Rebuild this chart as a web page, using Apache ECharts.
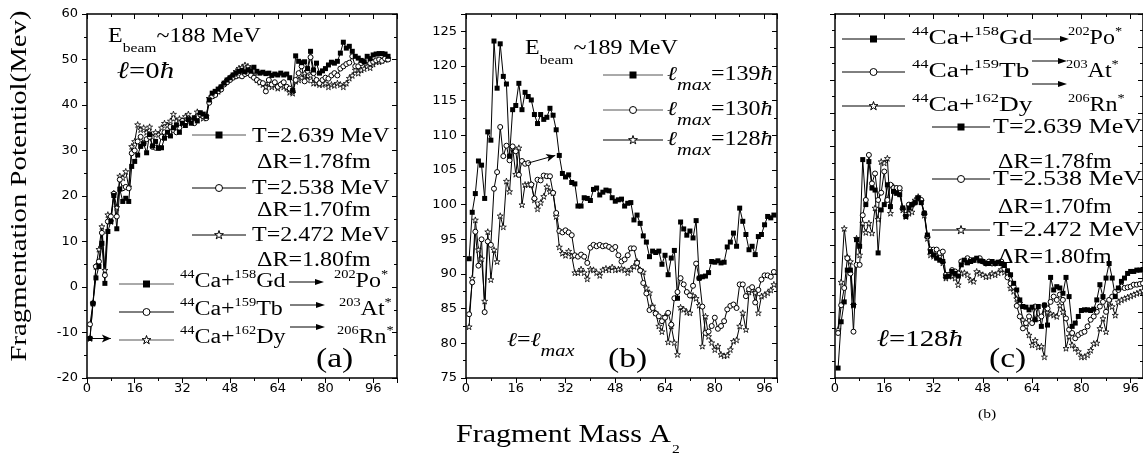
<!DOCTYPE html>
<html>
<head>
<meta charset="utf-8">
<script src="https://cdn.jsdelivr.net/npm/echarts@6/dist/echarts.min.js"></script>
<style>
  html, body { margin: 0; padding: 0; background: #fff; }
  #chart { width: 1143px; height: 457px; }
</style>
</head>
<body>
<div id="chart"></div>
<script>
// ---- data: fragmentation potential vs fragment mass A2 (A2 = 1, 2, 3, ...) ----
// panel (a): l = 0, three temperatures
const aSquare = [-11.3,-3.6,2.0,4.5,9.6,0.8,12.2,14.4,20.1,12.8,21.5,18.8,19.5,18.8,26.5,27.6,29.0,30.9,31.5,29.5,
  33.5,31.0,32.0,30.5,30.6,32.7,34.0,33.2,35.0,35.6,34.0,36.0,35.5,36.8,36.0,37.2,36.5,38.3,38.0,37.5,
  41.1,42.6,43.0,43.5,44.0,44.8,45.5,46.0,46.6,47.0,47.4,47.6,47.3,47.7,47.5,48.3,47.4,47.0,47.2,46.9,
  47.0,46.5,46.8,46.6,47.0,46.6,46.8,46.0,43.2,50.8,49.6,49.3,49.5,48.0,51.8,47.7,49.2,47.0,47.5,48.0,
  48.8,49.4,49.2,49.6,51.4,53.8,52.5,52.9,51.8,50.7,50.3,49.8,49.5,50.7,50.2,51.0,51.2,51.3,51.3,51.2,50.7];
const aCircle = [-8.2,-3.6,4.5,5.6,11.9,2.6,14.4,15.5,20.5,15.5,23.6,21.7,22.0,21.7,29.4,30.0,32.0,33.0,31.6,32.5,
  33.0,30.8,30.6,30.6,33.0,34.0,33.6,35.2,34.5,34.0,35.0,36.5,36.0,37.0,36.2,36.0,37.5,37.9,37.5,37.1,
  40.5,41.9,42.2,43.0,43.4,44.5,45.0,45.5,46.0,46.3,46.5,46.3,46.8,47.0,46.5,46.0,45.5,45.0,44.8,43.0,
  45.5,44.5,45.0,44.0,44.5,45.0,44.0,43.6,43.0,45.5,47.0,48.5,45.2,47.5,50.5,47.0,45.5,44.8,45.5,46.0,
  45.8,46.5,47.0,46.5,48.0,48.5,49.0,49.3,50.7,48.5,48.5,49.2,49.5,49.9,49.2,49.5,49.8,50.0,49.7,50.2,50.0];
const aStar = [-11.3,-3.6,4.5,8.3,13.3,3.7,15.9,14.4,20.6,17.5,24.4,24.0,25.4,22.0,30.9,32.0,35.7,34.6,35.0,34.0,
  35.2,33.0,34.0,33.5,35.0,36.0,35.5,36.5,38.0,36.5,37.0,36.5,37.5,38.0,36.5,37.0,38.5,38.0,37.1,37.5,
  41.5,42.0,42.5,43.0,44.0,44.8,45.5,46.0,46.5,47.4,48.1,48.3,48.8,48.5,48.0,46.5,45.5,45.0,44.5,44.0,
  44.8,44.0,44.5,43.7,44.5,44.0,43.7,42.8,42.6,45.2,45.5,46.0,47.0,45.5,46.5,44.8,44.8,44.5,44.5,44.8,
  44.0,44.5,44.3,44.8,44.5,44.0,44.8,45.9,46.5,47.7,47.0,47.7,48.0,48.5,48.2,49.0,49.5,49.5,49.8,50.0,50.2];

// panel (b): l = lmax (139, 130, 128 hbar)
const bSquare = [92.2,98.9,101.6,106.3,105.7,100.9,110.5,109.3,123.6,116.8,123.2,118.5,117.4,107.0,113.7,114.3,117.5,113.7,116.2,115.6,
  115.1,113.0,111.7,113.0,112.3,112.6,113.9,112.9,110.8,107.1,104.5,104.0,104.3,103.2,103.0,99.8,99.8,101.0,100.9,100.6,
  102.2,102.4,101.4,101.8,102.1,102.0,101.0,100.5,100.7,100.8,99.8,100.2,100.3,97.8,98.5,97.3,95.5,94.6,92.5,93.3,
  93.1,93.3,91.4,92.7,89.9,92.3,93.4,86.5,97.5,96.5,95.6,96.2,95.2,97.7,89.4,89.6,89.7,90.2,91.8,91.7,
  91.9,91.6,91.7,93.9,94.6,95.9,94.0,99.5,97.6,95.7,93.5,94.0,92.8,95.4,95.7,97.1,98.3,98.1,98.5];
const bCircle = [84.2,88.8,96.1,91.2,95.0,84.5,94.7,94.2,102.3,104.7,111.2,107.0,108.5,106.4,108.4,107.7,104.3,106.3,105.9,106.0,
  102.9,100.9,103.6,103.5,104.2,104.1,104.1,101.7,98.8,96.2,96.0,96.3,96.0,95.6,92.7,92.5,92.8,92.5,91.6,93.8,
  94.2,94.0,94.2,94.0,94.1,93.9,93.6,93.9,92.7,91.8,92.1,92.7,93.7,93.7,91.6,90.5,88.7,87.2,84.8,85.1,
  84.3,83.9,83.2,83.7,84.4,82.7,86.5,87.4,89.4,88.5,87.4,86.9,88.3,91.5,89.4,85.3,81.5,81.7,82.5,83.7,
  82.1,82.5,83.2,84.9,85.4,85.6,85.1,88.5,88.5,86.8,87.8,88.1,85.9,87.7,89.2,89.8,89.8,89.6,90.3];
const bStar = [82.4,89.4,97.8,93.5,92.2,86.1,96.1,89.2,93.5,91.8,98.4,96.8,103.4,101.9,108.2,104.4,108.2,100.0,102.9,102.9,
  102.9,100.7,99.4,100.3,101.2,102.6,101.9,101.7,98.3,93.9,93.0,92.7,93.3,92.6,90.2,90.2,90.7,90.2,89.3,90.7,
  90.6,90.2,89.8,90.6,90.8,90.6,91.0,90.6,90.7,90.8,90.6,90.2,90.7,91.1,91.8,90.6,90.3,88.0,87.3,85.4,
  84.4,82.5,81.7,83.9,80.2,82.5,80.1,78.4,85.2,84.9,84.5,84.4,86.9,86.5,85.5,79.6,83.9,81.0,80.1,79.1,
  79.6,78.4,78.2,78.3,79.1,80.3,80.5,82.5,84.4,82.0,87.4,87.7,87.3,84.4,86.8,87.0,87.3,87.7,88.5];

// panel (c): l = 128 hbar, three reactions
const cSquare = [76.5,83.5,86.5,91.3,91.3,86.0,95.9,94.9,108.0,101.2,107.7,103.7,103.4,93.9,100.4,101.2,104.2,100.9,103.2,102.9,
  102.7,100.7,99.4,100.7,101.2,101.5,102.2,101.5,99.9,96.6,94.1,93.6,93.1,92.8,92.6,90.3,90.4,91.1,90.8,90.4,
  92.1,92.8,92.4,92.6,92.8,93.1,92.7,92.6,92.3,92.3,92.6,92.3,92.5,92.3,92.0,91.2,90.6,89.3,88.3,86.8,
  85.8,85.7,85.3,85.7,83.8,85.8,82.8,86.0,83.0,90.2,88.3,88.8,88.6,87.8,90.2,87.3,82.8,83.3,84.3,85.2,
  85.3,85.3,85.2,85.4,86.8,89.1,87.3,90.1,92.3,90.1,87.3,88.6,89.6,90.1,90.8,91.1,91.1,91.3,91.3,91.4];
const cCircle = [81.8,86.0,88.6,93.1,90.8,82.0,92.1,92.1,99.6,101.9,108.7,104.4,105.9,101.9,103.0,106.2,101.9,104.2,103.7,103.7,
  103.7,100.6,99.6,101.2,101.2,101.5,102.2,101.9,99.9,96.4,94.4,94.4,94.4,93.9,94.1,90.6,90.6,91.3,91.1,90.8,
  92.6,92.6,93.1,92.8,92.8,92.9,93.1,92.6,92.3,92.6,92.3,92.3,92.4,92.6,91.5,90.2,89.3,88.8,85.9,84.3,
  82.5,83.3,84.3,83.3,85.8,84.0,84.3,86.0,85.5,86.5,87.3,86.8,87.6,86.8,84.0,82.3,81.8,81.0,81.5,81.8,
  82.0,82.8,83.8,84.3,85.0,85.8,86.5,85.0,86.8,87.3,88.0,88.3,88.8,88.6,88.7,88.8,89.1,89.1,89.2,89.3];
const cStar = [82.3,89.5,97.6,93.3,92.6,86.0,96.1,93.6,98.4,97.0,98.4,96.9,100.7,99.0,107.7,107.5,108.2,99.9,103.9,103.7,
  103.2,100.4,99.4,99.9,100.1,101.9,102.4,101.7,99.6,96.1,93.6,93.4,93.4,93.4,92.4,90.1,90.4,90.4,90.1,89.1,
  90.8,90.9,90.6,89.8,89.6,91.1,90.8,90.6,90.3,90.4,90.8,90.6,90.9,91.4,91.0,90.8,88.6,88.1,87.0,86.3,
  83.8,82.8,81.5,80.0,80.7,79.7,79.8,78.2,84.9,84.7,84.5,84.3,86.0,85.0,79.5,81.3,80.0,79.5,79.0,78.2,
  78.2,78.5,79.2,80.2,80.3,82.5,84.0,82.0,86.5,85.8,84.5,86.5,86.8,87.0,87.2,87.4,87.6,87.8,88.0,88.2];

const SERIF = '"Liberation Serif", "Times New Roman", "DejaVu Serif", serif';
const SANS = '"DejaVu Sans", "Liberation Sans", sans-serif';
const STAR = 'path://M50,0 L61.8,35.5 L99,35.5 L69,57.5 L80.9,92.7 L50,70.8 L19.1,92.7 L31,57.5 L1,35.5 L38.2,35.5 Z';
// same outline as a point list (0..100 box) for the legend icons
const STAR_PTS = [[50,0],[61.8,35.5],[99,35.5],[69,57.5],[80.9,92.7],[50,70.8],[19.1,92.7],[31,57.5],[1,35.5],[38.2,35.5]];

const chart = echarts.init(document.getElementById('chart'), null, { renderer: 'canvas' });

const grids = [
  { left: 87, top: 14, width: 310, height: 364 },
  { left: 466, top: 14, width: 311, height: 364 },
  { left: 835, top: 14, width: 309, height: 364 }
];
const xRange = [[0, 104], [0, 100], [0, 100]];
const yRange = [[-20, 60, 10], [75, 127.5, 5], [75, 130, 5]];

const xAxes = [], yAxes = [];
grids.forEach((g, i) => {
  const base = {
    gridIndex: i, type: 'value', splitLine: { show: false },
    axisLine: { show: true, onZero: false, lineStyle: { color: '#000', width: 1.5 } },
    minorTick: { show: true, splitNumber: 2, length: 3, lineStyle: { color: '#000' } }
  };
  xAxes.push(Object.assign({}, base, {
    position: 'bottom', min: xRange[i][0], max: xRange[i][1], interval: 16,
    axisTick: { show: true, inside: false, length: 5, lineStyle: { color: '#000' } },
    axisLabel: { show: true, color: '#000', fontFamily: SANS, fontSize: 13, margin: 4, showMaxLabel: false }
  }));
  xAxes.push(Object.assign({}, base, {
    position: 'top', min: xRange[i][0], max: xRange[i][1], interval: 16,
    axisTick: { show: true, inside: true, length: 5, lineStyle: { color: '#000' } },
    axisLabel: { show: false }
  }));
  yAxes.push(Object.assign({}, base, {
    position: 'left', min: yRange[i][0], max: yRange[i][1], interval: yRange[i][2],
    axisTick: { show: true, inside: false, length: 5, lineStyle: { color: '#000' } },
    axisLabel: { show: i < 2, color: '#000', fontFamily: SANS, fontSize: 13, margin: 9, showMaxLabel: i === 0 }
  }));
  yAxes.push(Object.assign({}, base, {
    position: 'right', min: yRange[i][0], max: yRange[i][1], interval: yRange[i][2],
    axisTick: { show: true, inside: true, length: 5, lineStyle: { color: '#000' } },
    axisLabel: { show: false }
  }));
});

function mk(name, vals, kind, gi, extra) {
  const s = {
    name: name, type: 'line', xAxisIndex: gi * 2, yAxisIndex: gi * 2,
    data: vals.map((v, i) => [i + 1, v]),
    showAllSymbol: true, clip: true, animation: false,
    lineStyle: { color: '#000', width: 1 }
  };
  if (kind === 'sq') {
    s.symbol = 'rect'; s.symbolSize = 5;
    s.itemStyle = { color: '#000', borderColor: '#000', borderWidth: 0 };
  } else if (kind === 'ci') {
    s.symbol = 'circle'; s.symbolSize = 5;
    s.itemStyle = { color: '#fff', borderColor: '#000', borderWidth: 1 };
  } else {
    s.symbol = STAR; s.symbolSize = 6;
    s.itemStyle = { color: '#fff', borderColor: '#000', borderWidth: 0.8 };
  }
  return Object.assign(s, extra || {});
}

const arrowLine = (from, to) => ({
  silent: true, symbol: ['none', 'arrow'], symbolSize: [6, 9],
  lineStyle: { color: '#000', width: 1, type: 'solid' }, label: { show: false },
  data: [[{ coord: from }, { coord: to }]]
});

const series = [
  mk('aStar', aStar, 'st', 0),
  mk('aCircle', aCircle, 'ci', 0),
  mk('aSquare', aSquare, 'sq', 0, { markLine: arrowLine([1, -11.3], [8, -11.3]) }),
  mk('bStar', bStar, 'st', 1),
  mk('bCircle', bCircle, 'ci', 1, { markLine: arrowLine([20, 106.0], [28.7, 107.1]) }),
  mk('bSquare', bSquare, 'sq', 1),
  mk('cStar', cStar, 'st', 2),
  mk('cCircle', cCircle, 'ci', 2),
  mk('cSquare', cSquare, 'sq', 2)
];

// ---- annotation text (serif, horizontally widened like the original) ----
const RICH = {
  e: { fontFamily: SERIF, fontSize: 20, lineHeight: 37 },
  eb: { fontFamily: SERIF, fontSize: 13, verticalAlign: 'bottom' },
  r: { fontFamily: SERIF, fontSize: 20, lineHeight: 27 },
  rs: { fontFamily: SERIF, fontSize: 12, verticalAlign: 'top' },
  t: { fontFamily: SERIF, fontSize: 20, lineHeight: 24 },
  l: { fontFamily: SERIF, fontSize: 20, fontStyle: 'italic', lineHeight: 39 },
  lu: { fontFamily: SERIF, fontSize: 20, lineHeight: 39 },
  ls: { fontFamily: SERIF, fontSize: 17, fontStyle: 'italic', verticalAlign: 'bottom' },
  li: { fontFamily: SERIF, fontSize: 24, fontStyle: 'italic' },
  ln: { fontFamily: SERIF, fontSize: 24 },
  p: { fontFamily: SERIF, fontSize: 28 }
};
const SX = 1.2;
function txt(x, y, text, extra) {
  return Object.assign({
    type: 'text', x: x, y: y, scaleX: SX, z: 100, silent: true,
    style: { text: text, rich: RICH, fill: '#000', align: 'left', verticalAlign: 'middle', font: '20px ' + SERIF }
  }, extra || {});
}
function sample(x1, x2, y, kind, color) {
  const cx = (x1 + x2) / 2;
  const els = [{ type: 'line', z: 100, silent: true, shape: { x1: x1, y1: y, x2: x2, y2: y }, style: { stroke: color, lineWidth: 1 } }];
  if (kind === 'sq') {
    els.push({ type: 'rect', z: 101, silent: true, shape: { x: cx - 3.5, y: y - 3.5, width: 7, height: 7 }, style: { fill: '#000' } });
  } else if (kind === 'ci') {
    els.push({ type: 'circle', z: 101, silent: true, shape: { cx: cx, cy: y, r: 3.5 }, style: { fill: '#fff', stroke: '#000', lineWidth: 1 } });
  } else {
    const pts = STAR_PTS.map(p => [cx - 4.5 + p[0] * 0.09, y - 4.5 + p[1] * 0.09]);
    els.push({ type: 'polygon', z: 101, silent: true, shape: { points: pts }, style: { fill: '#fff', stroke: '#000', lineWidth: 1 } });
  }
  return els;
}
function arrow(x1, x2, y) {
  return [
    { type: 'line', z: 100, silent: true, shape: { x1: x1, y1: y, x2: x2 - 6, y2: y }, style: { stroke: '#000', lineWidth: 1 } },
    { type: 'polygon', z: 100, silent: true, shape: { points: [[x2, y], [x2 - 9, y - 3], [x2 - 9, y + 3]] }, style: { fill: '#000' } }
  ];
}
const wideC = { scaleX: 1.37 };
const wideT = { scaleX: 1.3 };

const graphics = [].concat(
  // axis titles
  [txt(20, 186, '', { rotation: Math.PI / 2, style: { text: 'Fragmentation Potentiol(Mev)', fill: '#000', align: 'center', verticalAlign: 'middle', font: '24px ' + SERIF } })],
  [txt(456, 435, '', { style: { text: 'Fragment Mass A', fill: '#000', align: 'left', verticalAlign: 'middle', font: '25px ' + SERIF } })],
  [txt(672, 450, '', { style: { text: '2', fill: '#000', align: 'left', verticalAlign: 'middle', font: '13px ' + SERIF } })],

  // panel (a)
  [txt(108, 37, '{e|E}{eb|beam}{e|~188 MeV}')],
  [txt(117, 72, '{li|ℓ}{ln|=0}{li|ħ}')],
  sample(192, 246, 135, 'sq', '#555'),
  [txt(252, 137, '{t|T=2.639 MeV}'), txt(257, 163, '{t|ΔR=1.78fm}')],
  sample(192, 246, 188, 'ci', '#000'),
  [txt(252, 189, '{t|T=2.538 MeV}'), txt(257, 211, '{t|ΔR=1.70fm}')],
  sample(192, 246, 235, 'st', '#000'),
  [txt(252, 236, '{t|T=2.472 MeV}'), txt(257, 261, '{t|ΔR=1.80fm}')],
  sample(119, 174, 284, 'sq', '#555'),
  sample(119, 174, 312, 'ci', '#000'),
  sample(119, 174, 340, 'st', '#555'),
  [txt(180, 282, '{rs|44}{r|Ca+}{rs|158}{r|Gd}'), txt(180, 310, '{rs|44}{r|Ca+}{rs|159}{r|Tb}'), txt(180, 338, '{rs|44}{r|Ca+}{rs|162}{r|Dy}')],
  arrow(289, 324, 282), arrow(290, 325, 305), arrow(290, 325, 327),
  [txt(334, 282, '{rs|202}{r|Po}{rs|*}'), txt(339, 310, '{rs|203}{r|At}{rs|*}'), txt(337, 338, '{rs|206}{r|Rn}{rs|*}')],
  [txt(316, 360, '{p|(a)}')],

  // panel (b)
  [txt(525, 49, '{e|E}{eb|beam}{e|~189 MeV}')],
  sample(603, 663, 75, 'sq', '#555'),
  sample(603, 663, 110, 'ci', '#555'),
  sample(603, 663, 140, 'st', '#000'),
  [txt(667, 75, '{l|ℓ}{ls|max}{lu|=139}{l|ħ}'), txt(667, 110, '{l|ℓ}{ls|max}{lu|=130}{l|ħ}'), txt(667, 140, '{l|ℓ}{ls|max}{lu|=128}{l|ħ}')],
  [txt(507, 341, '{l|ℓ}{lu|=}{l|ℓ}{ls|max}')],
  [txt(608, 360, '{p|(b)}')],

  // panel (c)
  sample(842, 905, 39, 'sq', '#000'),
  sample(842, 905, 72, 'ci', '#000'),
  sample(842, 905, 106, 'st', '#000'),
  [txt(912, 39, '{rs|44}{r|Ca+}{rs|158}{r|Gd}', wideC), txt(912, 72, '{rs|44}{r|Ca+}{rs|159}{r|Tb}', wideC), txt(912, 106, '{rs|44}{r|Ca+}{rs|162}{r|Dy}', wideC)],
  arrow(1033, 1069, 39), arrow(1032, 1067, 61), arrow(1032, 1067, 84),
  [txt(1068, 39, '{rs|202}{r|Po}{rs|*}'), txt(1066, 72, '{rs|203}{r|At}{rs|*}'), txt(1068, 106, '{rs|206}{r|Rn}{rs|*}')],
  sample(932, 990, 127, 'sq', '#000'),
  [txt(993, 128, '{t|T=2.639 MeV}', wideT), txt(998, 163, '{t|ΔR=1.78fm}')],
  sample(932, 990, 179, 'ci', '#000'),
  [txt(993, 180, '{t|T=2.538 MeV}', wideT), txt(998, 208, '{t|ΔR=1.70fm}')],
  sample(932, 990, 230, 'st', '#000'),
  [txt(993, 231, '{t|T=2.472 MeV}', wideT), txt(998, 258, '{t|ΔR=1.80fm}')],
  [txt(877, 340, '{li|ℓ}{ln|=128}{li|ħ}')],
  [txt(989, 360, '{p|(c)}')],
  [txt(978, 415, '', { style: { text: '(b)', fill: '#000', align: 'left', verticalAlign: 'middle', font: '13px ' + SERIF } })]
);

chart.setOption({
  animation: false,
  backgroundColor: '#fff',
  grid: grids,
  xAxis: xAxes,
  yAxis: yAxes,
  series: series,
  graphic: { elements: graphics }
});

window.addEventListener('resize', () => chart.resize());
</script>
</body>
</html>
